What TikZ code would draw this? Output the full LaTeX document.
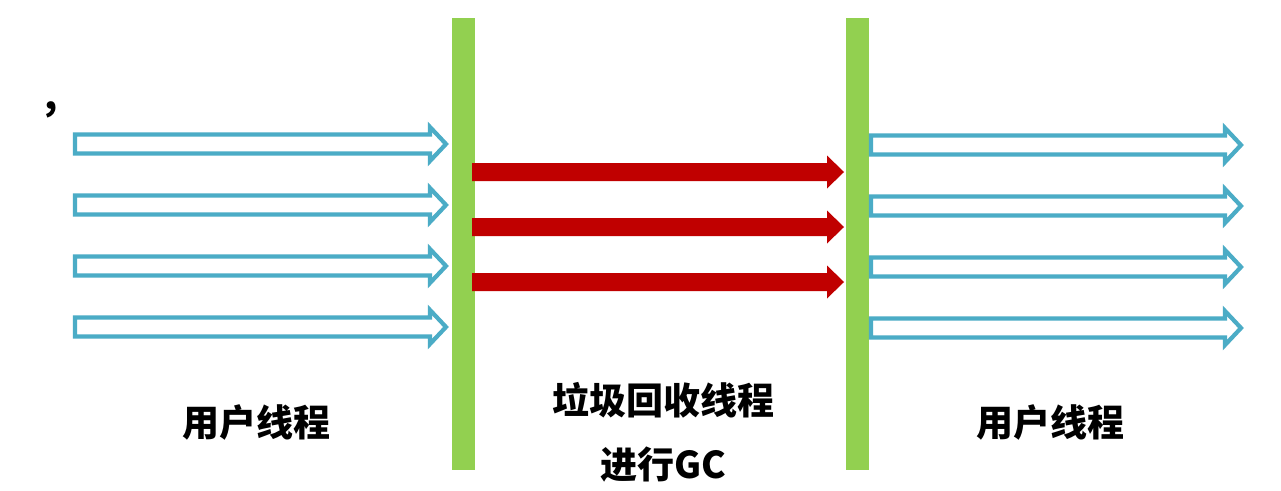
\documentclass[tikz,border=0pt]{standalone}
\usepackage{fontspec}
\newfontfamily\cjk{Noto Sans CJK SC}
\definecolor{gbar}{HTML}{92D050}
\definecolor{barrow}{HTML}{4BACC6}
\definecolor{rarrow}{HTML}{C00000}
\tikzset{
  bar/.style={fill=gbar, draw=none, inner sep=0pt, minimum width=23pt, minimum height=452pt},
  hollow/.style={draw=barrow, line width=4.2pt, fill=white, line join=miter},
  solid/.style={fill=rarrow, draw=none},
  lbl/.style={font=\cjk\bfseries\fontsize{37}{40}\selectfont, text=black, inner sep=0pt}
}
% #1 start x, #2 head base x, #3 tip x, #4 center y, #5 shaft half, #6 head half, #7 style
\newcommand\fatarr[7]{%
  \path[#7] (#1,#4-#5) -- (#2,#4-#5) -- (#2,#4-#6) -- (#3,#4) -- (#2,#4+#6) -- (#2,#4+#5) -- (#1,#4+#5) -- cycle;}
\begin{document}
\begin{tikzpicture}[x=1pt,y=-1pt]
\useasboundingbox (0,0) rectangle (1281,490);
\fill[white] (0,0) rectangle (1281,490);
% bars
\node[bar] (barL) at (463.5,244) {};
\node[bar] (barR) at (857.5,244) {};
% left user threads
\foreach \yy in {144,205,266,327} {\fatarr{75}{430}{446}{\yy}{9.5}{17}{hollow}}
% right user threads
\foreach \yy in {145,206,267,328} {\fatarr{871}{1225}{1241}{\yy}{9.5}{17}{hollow}}
% GC threads
\foreach \yy in {172,227,282} {\fatarr{472}{827}{844}{\yy}{9}{16.5}{solid}}
% labels
\node[lbl] (uL) at (256,422) {用户线程};
\node[lbl] (gc1) at (663,400) {垃圾回收线程};
\node[lbl] (gc2) at (663,465) {进行GC};
\node[lbl] (uR) at (1050,422) {用户线程};
\node[font=\cjk\bfseries\fontsize{38}{38}\selectfont, inner sep=0pt, anchor=base] (mark) at (51,109) {,};
\end{tikzpicture}
\end{document}
